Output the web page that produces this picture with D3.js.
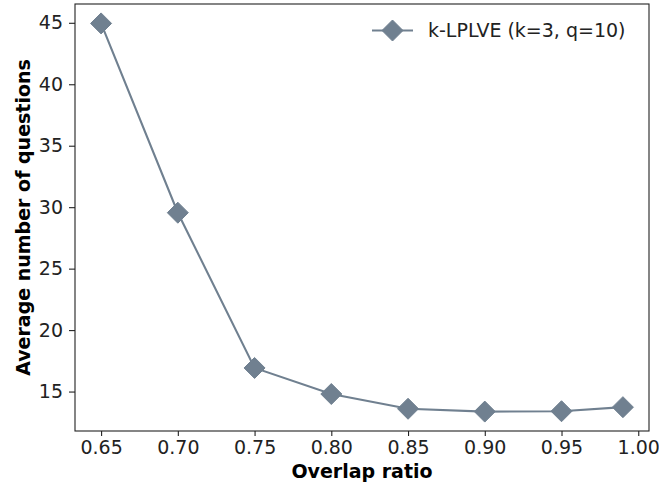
<!DOCTYPE html>
<html>
<head>
<meta charset="utf-8">
<script src="https://cdn.jsdelivr.net/npm/d3@7/dist/d3.min.js"></script>
<style>
  html, body { margin: 0; padding: 0; background: #fff; }
  svg { display: block; font-family: "DejaVu Sans", sans-serif; }
</style>
</head>
<body>
<svg id="chart" width="659" height="489"></svg>
<script>
// Overlap ratios and the average number of questions asked at each
const overlapRatios = [0.65, 0.70, 0.75, 0.80, 0.85, 0.90, 0.95, 0.99];
const avgQuestions = [44.95, 29.55, 16.92, 14.8, 13.6, 13.37, 13.4, 13.73];
const xTicks = [0.65, 0.70, 0.75, 0.80, 0.85, 0.90, 0.95, 1.00];
const yTicks = [15, 20, 25, 30, 35, 40, 45];
const seriesName = "k-LPLVE (k=3, q=10)";

const color = "#708090";
const fontSize = "19px";
const svg = d3.select("#chart");
const margin = { left: 75, right: 10, top: 4, bottom: 58 };
const W = 659, H = 489;

// 5% padding around the data range on both axes
const xmin = d3.min(overlapRatios), xmax = d3.max(overlapRatios);
const ymin = d3.min(avgQuestions), ymax = d3.max(avgQuestions);
const xpad = (xmax - xmin) * 0.05, ypad = (ymax - ymin) * 0.05;

const x = d3.scaleLinear().domain([xmin - xpad, xmax + xpad]).range([margin.left, W - margin.right]);
const y = d3.scaleLinear().domain([ymin - ypad, ymax + ypad]).range([H - margin.bottom, margin.top]);

const fmtX = d3.format(".2f");

const gx = svg.append("g")
  .attr("transform", `translate(0,${H - margin.bottom})`)
  .call(d3.axisBottom(x).tickValues(xTicks).tickFormat(fmtX).tickSize(5).tickPadding(5));
const gy = svg.append("g")
  .attr("transform", `translate(${margin.left},0)`)
  .call(d3.axisLeft(y).tickValues(yTicks).tickSize(6).tickPadding(6));

[gx, gy].forEach(g => {
  g.select(".domain").remove();
  g.selectAll(".tick line").attr("stroke", "#222").attr("stroke-width", 1.1);
  g.selectAll(".tick text").attr("fill", "#222").style("font-size", fontSize).style("font-family", "DejaVu Sans");
});

// frame around the plotting area
svg.append("rect")
  .attr("x", margin.left).attr("y", margin.top)
  .attr("width", W - margin.left - margin.right)
  .attr("height", H - margin.top - margin.bottom)
  .attr("fill", "none").attr("stroke", "#222").attr("stroke-width", 1.1);

// axis titles
svg.append("text")
  .attr("x", (margin.left + W - margin.right) / 2).attr("y", 478)
  .attr("text-anchor", "middle")
  .style("font-size", fontSize).style("font-weight", "bold")
  .text("Overlap ratio");
svg.append("text")
  .attr("transform", `translate(30,${(margin.top + H - margin.bottom) / 2}) rotate(-90)`)
  .attr("text-anchor", "middle")
  .style("font-size", fontSize).style("font-weight", "bold")
  .text("Average number of questions");

// series line and diamond markers
const data = overlapRatios.map((r, i) => ({ r, v: avgQuestions[i] }));
svg.append("path")
  .datum(data)
  .attr("fill", "none").attr("stroke", color).attr("stroke-width", 2.1)
  .attr("d", d3.line().x(d => x(d.r)).y(d => y(d.v)));

const diamond = s => `M0,${-s}L${s},0L0,${s}L${-s},0Z`;
svg.selectAll(".pt").data(data).enter().append("path")
  .attr("class", "pt")
  .attr("transform", d => `translate(${x(d.r)},${y(d.v)})`)
  .attr("d", diamond(10.5))
  .attr("fill", color).attr("stroke", color).attr("stroke-width", 1);

// legend
const lg = svg.append("g").attr("transform", "translate(372,30.5)");
lg.append("line").attr("x1", 0).attr("x2", 41).attr("y1", 0).attr("y2", 0)
  .attr("stroke", color).attr("stroke-width", 2.1);
lg.append("path").attr("transform", "translate(20.5,0)").attr("d", diamond(10.5))
  .attr("fill", color).attr("stroke", color).attr("stroke-width", 1);
lg.append("text").attr("x", 56).attr("y", 0).attr("dy", "0.35em")
  .style("font-size", fontSize).attr("fill", "#222")
  .text(seriesName);
</script>
</body>
</html>
